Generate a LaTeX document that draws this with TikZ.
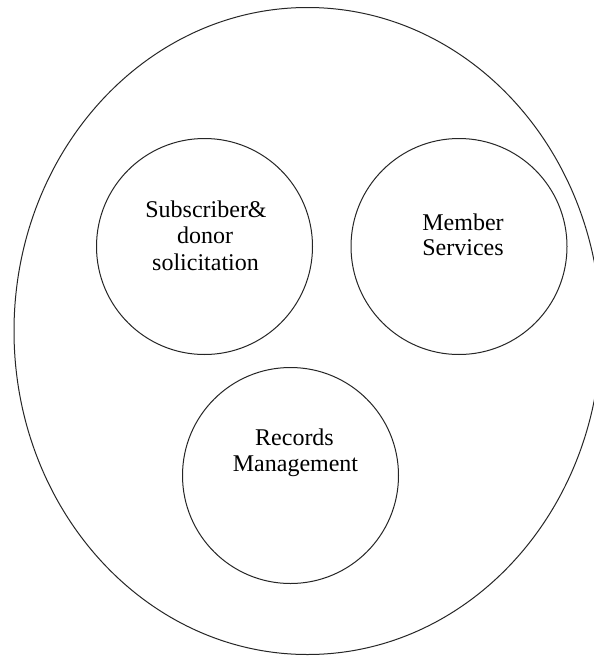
\documentclass[tikz,border=0pt]{standalone}
\usepackage{fontspec}
\setmainfont{Liberation Serif}
\newfontfamily\diagserif{Liberation Serif}
\begin{document}
\begin{tikzpicture}[x=1pt,y=-1pt,
  ring/.style={draw=black!85,line width=1pt,circle,minimum size=216pt,inner sep=0pt},
  lbl/.style={anchor=base,inner sep=0pt,font=\diagserif\fontsize{24}{26}\selectfont}]
\clip (0,0) rectangle (594,656);
\fill[white] (0,0) rectangle (594,656);
\draw[draw=black!85,line width=1pt] (307.5,331) ellipse [x radius=293.5pt, y radius=323.5pt];
\node[ring] (sub) at (204.5,246.5) {};
\node[ring] (mem) at (459,246.5) {};
\node[ring] (rec) at (290.5,475.5) {};
\node[lbl] (sub1) at (206,217) {Subscriber\&};
\node[lbl] (sub2) at (205,243.5) {donor};
\node[lbl] (sub3) at (205.5,270) {solicitation};
\node[lbl] (mem1) at (463,230) {Member};
\node[lbl] (mem2) at (463,255.5) {Services};
\node[lbl] (rec1) at (294.5,445) {Records};
\node[lbl] (rec2) at (295.5,471.5) {Management};
\end{tikzpicture}
\end{document}
